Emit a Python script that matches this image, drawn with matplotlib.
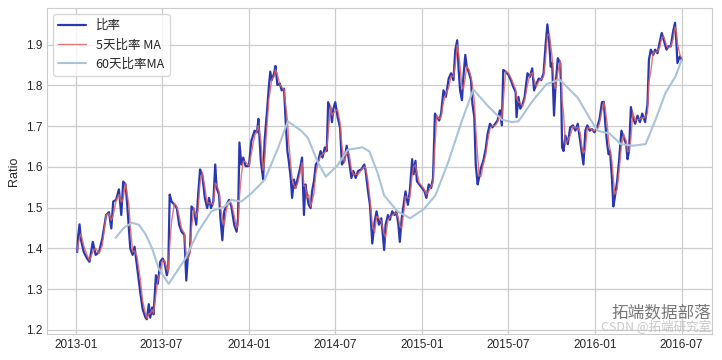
import pandas as pd
import matplotlib
matplotlib.use('Agg')
import matplotlib.pyplot as plt
import seaborn as sns

# ratio (days since 2013-01-01)
ratio_days = [3, 5, 8, 11, 17, 24, 29, 36, 42, 49, 56, 64, 70, 75, 79, 85, 91, 96, 100, 105,
              108, 112, 115, 120, 124, 129, 136, 141, 147, 150, 154, 157, 161, 164, 169, 173, 178, 183, 187, 192,
              195, 198, 202, 208, 213, 218, 223, 229, 233, 236, 241, 244, 249, 254, 258, 262, 267, 272, 277, 281,
              285, 290, 294, 297, 302, 305, 309, 313, 318, 323, 328, 334, 339, 342, 345, 349, 353, 358,
              365, 370, 377, 382, 385, 390, 395, 398, 403, 407, 410, 413, 418, 421, 425, 430, 434, 439,
              442, 446, 449, 453, 456, 460, 463, 468, 473, 477, 481, 484, 487, 491, 495, 498, 502, 506,
              511, 516, 520, 525, 529, 532, 537, 540, 543, 547, 552, 557, 561, 566, 571, 576, 581, 585,
              590, 595, 602, 608, 611, 616, 620, 625, 630, 634, 639, 644, 650, 653, 658, 662, 667, 672,
              676, 680, 683, 687, 692, 695, 700, 704, 709, 712, 716, 719, 724, 730, 735, 739, 744, 749,
              753, 757, 761, 766, 770, 775, 780, 786, 791, 796, 800, 804, 807, 810, 814, 817, 821, 824,
              829, 833, 836, 840, 843, 847, 850, 854, 859, 864, 868, 873, 878, 884, 889, 894, 898, 901,
              906, 912, 917, 922, 927, 929, 933, 937, 942, 946, 952, 957, 962, 966, 971, 976, 981, 986,
              990, 994, 998, 1001, 1004, 1008, 1011, 1016, 1021, 1023, 1025, 1028, 1032, 1037, 1042, 1048,
              1053, 1058, 1063, 1067, 1070, 1074, 1078, 1083, 1088, 1093, 1099, 1104, 1109, 1113, 1116,
              1120, 1123, 1126, 1130, 1133, 1136, 1141, 1145, 1150, 1155, 1160, 1163, 1166, 1170, 1174,
              1179, 1184, 1189, 1194, 1200, 1205, 1208, 1212, 1217, 1221, 1226, 1231, 1235, 1240, 1245,
              1249, 1254, 1259, 1263, 1266, 1268, 1273, 1277]
ratio = [1.391, 1.428, 1.459, 1.421, 1.391, 1.375, 1.367, 1.416, 1.384, 1.391, 1.424, 1.482, 1.489, 1.449,
         1.515, 1.519, 1.545, 1.482, 1.564, 1.557,
         1.515, 1.449, 1.399, 1.384, 1.404, 1.358, 1.292, 1.251, 1.230, 1.226, 1.263, 1.230, 1.255, 1.238,
         1.334, 1.313, 1.367, 1.375, 1.367, 1.334,
         1.350, 1.532, 1.515, 1.507, 1.499, 1.458, 1.441, 1.433, 1.321, 1.375, 1.400, 1.503, 1.495, 1.458,
         1.532, 1.594, 1.578, 1.524, 1.499, 1.524,
         1.499, 1.515, 1.606, 1.548, 1.532, 1.474, 1.420, 1.491, 1.507, 1.519, 1.503, 1.458, 1.441, 1.474,
         1.660, 1.606, 1.623, 1.602,
         1.602, 1.664, 1.689, 1.685, 1.718, 1.615, 1.569, 1.664, 1.735, 1.797, 1.834, 1.813, 1.830, 1.848,
         1.801, 1.805, 1.788, 1.792,
         1.722, 1.639, 1.615, 1.573, 1.524, 1.569, 1.548, 1.573, 1.598, 1.623, 1.482, 1.557, 1.532, 1.507,
         1.499, 1.540, 1.565, 1.606,
         1.615, 1.639, 1.623, 1.648, 1.639, 1.759, 1.743, 1.710, 1.743, 1.759, 1.722, 1.697, 1.606, 1.615,
         1.652, 1.615, 1.573, 1.590,
         1.573, 1.590, 1.594, 1.606, 1.590, 1.540, 1.507, 1.412, 1.466, 1.491, 1.458, 1.474, 1.396, 1.458,
         1.482, 1.470, 1.491, 1.482,
         1.491, 1.458, 1.416, 1.474, 1.515, 1.540, 1.507, 1.540, 1.619, 1.582, 1.615, 1.565, 1.557, 1.548,
         1.540, 1.524, 1.557, 1.548,
         1.573, 1.731, 1.722, 1.714, 1.731, 1.788, 1.772, 1.817, 1.830, 1.813, 1.888, 1.911, 1.838, 1.788,
         1.764, 1.821, 1.875, 1.846,
         1.830, 1.813, 1.755, 1.722, 1.606, 1.557, 1.573, 1.598, 1.615, 1.644, 1.681, 1.706, 1.697, 1.706,
         1.714, 1.739, 1.702, 1.838,
         1.834, 1.826, 1.813, 1.797, 1.784, 1.722, 1.772, 1.743, 1.755, 1.772, 1.830, 1.821, 1.842, 1.788,
         1.805, 1.817, 1.813, 1.830,
         1.896, 1.950, 1.904, 1.846, 1.855, 1.726, 1.797, 1.867, 1.855, 1.788, 1.648, 1.639, 1.677, 1.656,
         1.697, 1.702,
         1.689, 1.706, 1.664, 1.631, 1.606, 1.689, 1.702, 1.689, 1.693, 1.685, 1.697, 1.718, 1.759, 1.760,
         1.706,
         1.656, 1.631, 1.639, 1.573, 1.503, 1.524, 1.565, 1.615, 1.689, 1.672, 1.656, 1.619, 1.639, 1.747,
         1.722,
         1.706, 1.726, 1.710, 1.731, 1.710, 1.755, 1.863, 1.888, 1.875, 1.888, 1.879, 1.908, 1.929, 1.908,
         1.888,
         1.896, 1.896, 1.933, 1.954, 1.904, 1.855, 1.871, 1.863]

# 60-day moving average
ma60_days = [84, 101, 119, 133, 147, 161, 175, 196, 231, 258, 286, 314, 328, 349, 370, 398, 426, 447,
             475, 489, 510, 527, 552, 573, 604, 619, 636, 650, 678, 705, 734, 758, 786, 814, 838, 870,
             898, 919, 933, 964, 992, 1019, 1058, 1086, 1100, 1125, 1149, 1174, 1201, 1222, 1243, 1264, 1277]
ma60 = [1.426, 1.450, 1.463, 1.458, 1.435, 1.400, 1.350, 1.313, 1.375, 1.441, 1.491, 1.503, 1.519, 1.515,
        1.535, 1.568, 1.645, 1.712, 1.689, 1.672, 1.612, 1.576, 1.604, 1.642, 1.648, 1.638, 1.586, 1.530,
        1.491, 1.474, 1.497, 1.530, 1.615, 1.714, 1.790, 1.748, 1.716, 1.710, 1.712, 1.764, 1.803, 1.815,
        1.770, 1.714, 1.689, 1.682, 1.656, 1.652, 1.656, 1.716, 1.782, 1.822, 1.863]

start = pd.Timestamp('2013-01-01')
s = pd.Series(ratio, index=start + pd.to_timedelta(ratio_days, unit='D'))
ma5 = s.rolling('8D').mean()  # 5 trading days
s60 = pd.Series(ma60, index=start + pd.to_timedelta(ma60_days, unit='D'))

sns.set_style('whitegrid')
plt.rcParams['font.family'] = ['Liberation Sans', 'Noto Sans CJK SC', 'DejaVu Sans']

fig = plt.figure(figsize=(7.22, 3.6), dpi=100)
ax = fig.add_axes([0.065, 0.072, 0.921, 0.906])

ax.plot(s.index, s.values, color='#2a38b0', lw=1.6, label='比率')
ax.plot(ma5.index, ma5.values, color='#e0625f', lw=1.0, alpha=0.85, label='5天比率 MA')
ax.plot(s60.index, s60.values, color='#a9c3d9', lw=1.5, label='60天比率MA')

ax.set_ylabel('Ratio', fontsize=9)
ax.tick_params(labelsize=8.5, length=0)
for sp in ax.spines.values():
    sp.set_color('#cccccc')
ax.grid(color='#cccccc', lw=0.9)

leg = ax.legend(loc='upper left', frameon=True, handlelength=2.2,
                prop={'family': ['Noto Sans CJK SC', 'DejaVu Sans'], 'size': 9})
leg.get_frame().set_edgecolor('#cccccc')

# watermark text
fig.text(0.985, 0.12, '拓端数据部落', fontsize=12, color='#555555', ha='right',
         family=['Noto Sans CJK SC'], alpha=0.8)
fig.text(0.985, 0.08, 'CSDN @拓端研究室', fontsize=9, color='#bbbbbb', ha='right',
         family=['Noto Sans CJK SC', 'DejaVu Sans'], alpha=0.8)

fig.savefig('out.png', dpi=100)
